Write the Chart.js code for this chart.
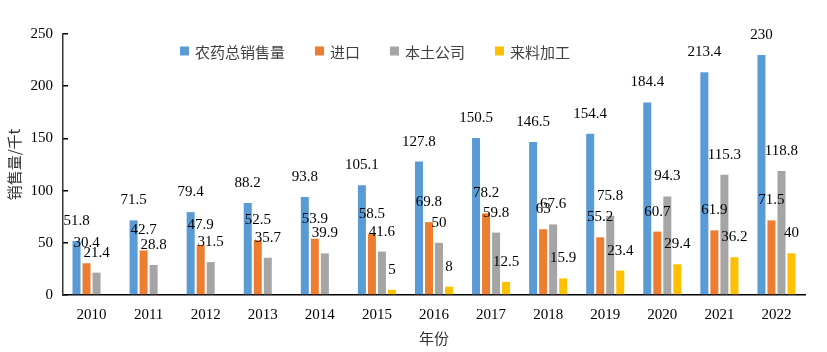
<!DOCTYPE html>
<html>
<head>
<meta charset="utf-8">
<script src="https://cdn.jsdelivr.net/npm/chart.js@4"></script>
<style>
  html, body { margin: 0; padding: 0; background: #fff; }
  #wrap { width: 827px; height: 352px; }
</style>
</head>
<body>
<div id="wrap"><canvas id="chart"></canvas></div>
<script>
// data
const years = ["2010", "2011", "2012", "2013", "2014", "2015", "2016", "2017", "2018", "2019", "2020", "2021", "2022"];
const totalSales = [51.8, 71.5, 79.4, 88.2, 93.8, 105.1, 127.8, 150.5, 146.5, 154.4, 184.4, 213.4, 230];
const imports = [30.4, 42.7, 47.9, 52.5, 53.9, 58.5, 69.8, 78.2, 63, 55.2, 60.7, 61.9, 71.5];
const domestic = [21.4, 28.8, 31.5, 35.7, 39.9, 41.6, 50, 59.8, 67.6, 75.8, 94.3, 115.3, 118.8];
const tolling = [null, null, null, null, null, 5, 8, 12.5, 15.9, 23.4, 29.4, 36.2, 40];
const seriesNames = ["农药总销售量", "进口", "本土公司", "来料加工"];
const yTicks = [0, 50, 100, 150, 200, 250];

const colors = ["#5B9BD5", "#ED7D31", "#A5A5A5", "#FFC000"];
const numFont = "15px 'Liberation Serif', 'Times New Roman', serif";
const cjkFont = "'Noto Sans CJK SC', sans-serif";

// value labels above each bar
const barLabels = {
  id: "barLabels",
  afterDatasetsDraw(chart) {
    const ctx = chart.ctx;
    ctx.save();
    ctx.font = numFont;
    ctx.fillStyle = "#000";
    ctx.textAlign = "center";
    ctx.textBaseline = "middle";
    chart.data.datasets.forEach((ds, i) => {
      chart.getDatasetMeta(i).data.forEach((bar, j) => {
        const v = ds.data[j];
        if (v == null) return;
        ctx.fillText(String(v), bar.x, bar.y - 20);
      });
    });
    ctx.restore();
  },
};

// legend sits inside the plot area, like the original
const innerLegend = {
  id: "innerLegend",
  afterDraw(chart) {
    const ctx = chart.ctx;
    ctx.save();
    ctx.font = "15px " + cjkFont;
    ctx.textBaseline = "middle";
    let x = 180;
    const y = 51;
    chart.data.datasets.forEach(ds => {
      ctx.fillStyle = ds.backgroundColor;
      ctx.fillRect(x, y - 4.5, 9, 9);
      x += 15;
      ctx.fillStyle = "#404040";
      ctx.fillText(ds.label, x, y + 1);
      x += ctx.measureText(ds.label).width + 30;
    });
    ctx.restore();
  },
};

new Chart(document.getElementById("chart"), {
  type: "bar",
  data: {
    labels: years,
    datasets: [totalSales, imports, domestic, tolling].map((d, i) => ({
      label: seriesNames[i],
      data: d,
      backgroundColor: colors[i],
      categoryPercentage: 0.702,
      barPercentage: 0.8,
    })),
  },
  options: {
    responsive: true,
    maintainAspectRatio: false,
    animation: false,
    layout: { padding: { top: 34, right: 22, left: 0, bottom: 0 } },
    plugins: {
      legend: { display: false },
      tooltip: { enabled: false },
    },
    scales: {
      x: {
        grid: { display: false },
        border: { display: true, color: "#000", width: 1.5 },
        ticks: { color: "#000", font: { family: "'Liberation Serif', serif", size: 15 }, padding: 3 },
        title: { display: true, text: "年份", color: "#333", font: { family: cjkFont, size: 15 }, padding: 5 },
        afterFit: s => { s.height = 57; },
      },
      y: {
        min: 0,
        max: 250,
        afterBuildTicks: s => { s.ticks = yTicks.map(v => ({ value: v })); },
        grid: { display: true, drawOnChartArea: false, drawTicks: true, tickLength: -5, color: "#000", lineWidth: 1.5 },
        border: { display: true, color: "#333", width: 1.5 },
        ticks: { color: "#000", font: { family: "'Liberation Serif', serif", size: 15 }, padding: 15 },
        title: { display: true, text: "销售量/千t", color: "#333", font: { family: cjkFont, size: 15 }, padding: 5 },
        afterFit: s => { s.width = 63; },
      },
    },
  },
  plugins: [barLabels, innerLegend],
});
</script>
</body>
</html>
